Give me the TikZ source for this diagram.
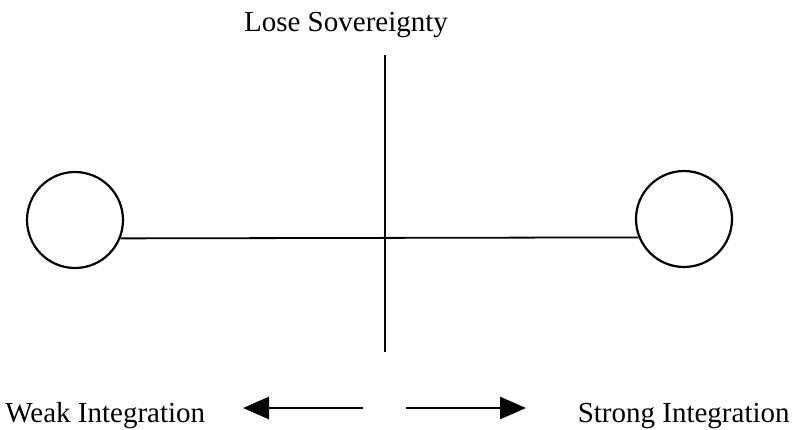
\documentclass[tikz,border=0pt]{standalone}
\usepackage{fontspec}
\setmainfont{Liberation Serif}
\usetikzlibrary{arrows.meta}

\begin{document}
\begin{tikzpicture}[
    x=0.5pt,
    y=-0.5pt,
    pole/.style={
      draw,
      circle,
      line width=1.1pt,
      minimum size=48pt,
      inner sep=0pt
    },
    txt/.style={
      inner sep=0pt,
      font=\fontsize{14.5}{17}\selectfont
    },
    axis/.style={line width=0.9pt},
    dir/.style={line width=1.3pt, -{Triangle[length=13pt, width=11pt]}}
  ]
    \useasboundingbox (0, 0) rectangle (795, 429);

    \node[pole] (weak) at (75, 220) {};
    \node[pole] (strong) at (684, 219) {};

    \coordinate (top) at (385, 55);
    \coordinate (bottom) at (385, 352);

    \node[txt, anchor=base] (sov) at (346, 31) {Lose Sovereignty};
    \node[txt, anchor=base west] (weaktxt) at (5, 422) {Weak Integration};
    \node[txt, anchor=base east] (strongtxt) at (790, 422) {Strong Integration};

    \coordinate (l1) at (363, 408);
    \coordinate (l2) at (243, 408);
    \coordinate (r1) at (406, 408);
    \coordinate (r2) at (526, 408);

    \draw[axis] (weak.-22) to (strong.202);
    \draw[axis] (top) to (bottom);
    \draw[dir] (l1) to (l2);
    \draw[dir] (r1) to (r2);
  \end{tikzpicture}
\end{document}
